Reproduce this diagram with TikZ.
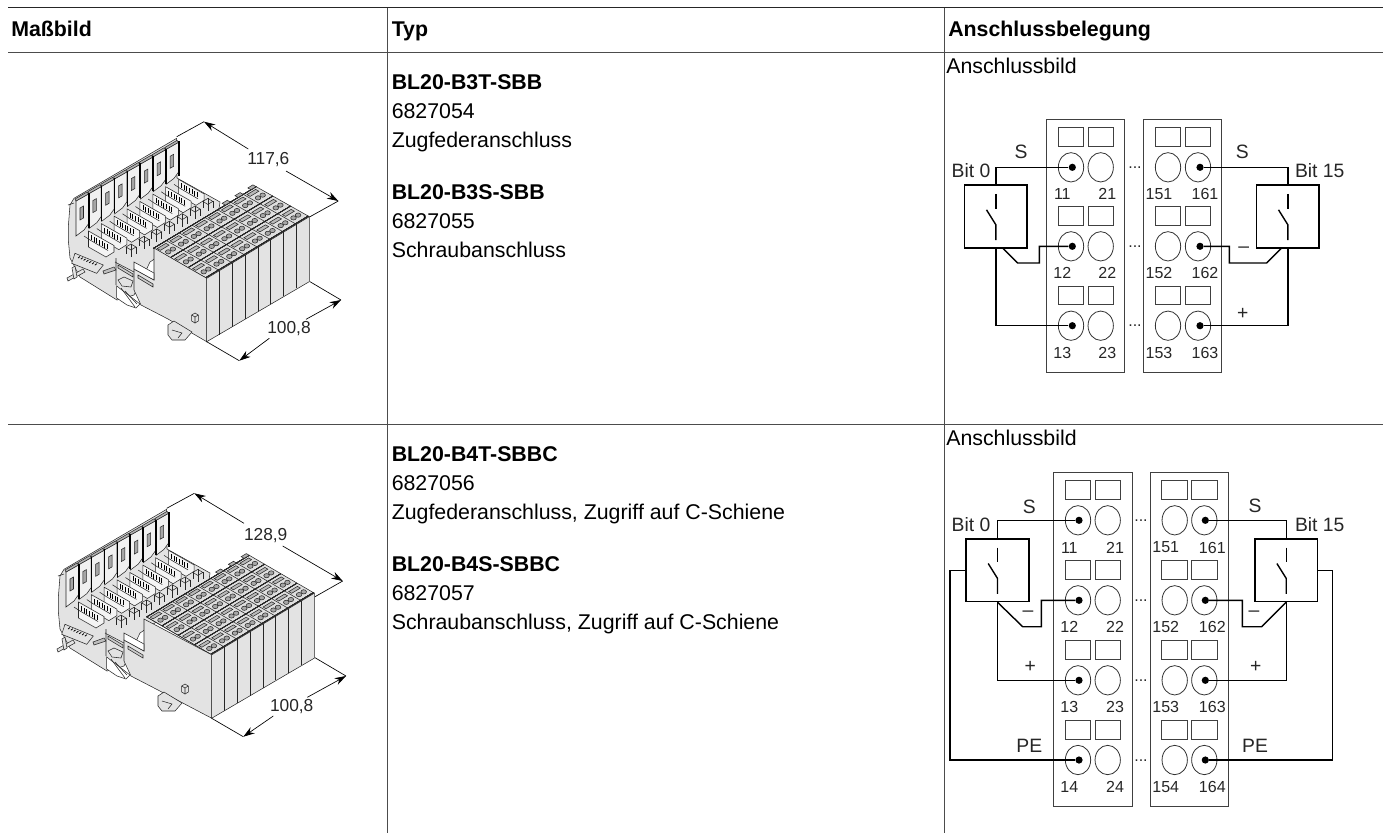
\documentclass[tikz,border=0pt]{standalone}
\usepackage{fontspec}
\setmainfont{Liberation Sans}
\usetikzlibrary{calc, arrows.meta, shapes.geometric}

\definecolor{bodygray}{HTML}{E3E3E3}

\tikzset{
  tabline/.style={line width=0.75pt, black!70},
  txt/.style={anchor=base west, inner sep=0pt, font=\fontsize{16}{18}\selectfont},
  head/.style={txt, font=\fontsize{16}{18}\selectfont\bfseries},
  lab/.style={inner sep=0pt, text=black!85, font=\fontsize{12}{14}\selectfont},
  dimlab/.style={lab, font=\fontsize{13}{15}\selectfont},
  biglab/.style={lab, font=\fontsize{14.5}{16}\selectfont},
  wire/.style={line width=1.05pt, black},
  block/.style={draw=black!75, line width=0.6pt, inner sep=0pt},
  slot/.style={draw=black!75, line width=0.6pt, minimum width=19pt, minimum height=14pt, inner sep=0pt},
  oval/.style={ellipse, draw=black!80, line width=0.6pt, minimum width=19pt, minimum height=22pt, inner sep=0pt},
  dot/.style={circle, fill=black, minimum size=5.4pt, inner sep=0pt},
  swbox/.style={draw=black, line width=1.05pt, minimum width=47pt, minimum height=47pt, inner sep=0pt},
  dim/.style={line width=0.5pt, black},
  dimarrow/.style={dim, -{Stealth[length=8.5pt,width=5.5pt]}},
  part/.style={draw=black!85, line width=0.4pt},
}

% contact symbol inside a switch box
\newcommand{\switchsym}[1]{
  \draw[wire] ($(#1)+(0,-22.7)$) -- ($(#1)+(0,-8)$);
  \draw[wire] ($(#1)+(-9.3,-6.7)$) -- ($(#1)+(0,8.2)$) -- ($(#1)+(0,23.7)$);
}

% #1,#2 shift of the rear part, #3 rows of terminals, #4,#5 one row in depth
\newcommand{\drawdevice}[5]{
  \begin{scope}[shift={(#1,#2)}]
    % floor and left wall
    \filldraw[part, fill=bodygray] (70,205) -- (74,198.3) -- (176.7,138.3) -- (177,178) -- (220,202) -- (218,216)
      -- (150,262) -- (134,295) -- (117,300) -- (80,277) -- (70,258) -- (68.3,240) -- (68.3,226.7) -- cycle;
    \draw[part] (68,205) -- (74,203);
    % flaps and sockets
    \foreach \i in {7,...,0} {
      \begin{scope}[shift={(12.86*\i,-7.38*\i)}]
        \filldraw[part, fill=bodygray!50] (76,201) -- (88.3,194) -- (88.3,224) -- (84,230) -- (76,236) -- cycle;
        \filldraw[part, fill=gray!60] (75,199) -- (87,192) -- (88.5,194) -- (76,201) -- cycle;
        \draw[black, line width=1.2pt] (88.8,193) -- (88.8,228);
        \filldraw[part, fill=gray!70] (80,208) -- (83.5,206) -- (83.5,218) -- (80,220) -- cycle;
        \filldraw[part, fill=bodygray!40] (88.5,231) -- (114,245.5) -- (114,252) -- (106,257) -- (88.5,247) -- cycle;
        \draw[part] (84,236) -- (90,240) -- (108,250.5);
        \foreach \j in {0,...,6} {
          \draw[black, line width=0.45pt] (91.5+2.6*\j,240+1.5*\j) -- +(0,-5);
        }
      \end{scope}
    }
    % small cages beside the terminals
    \foreach \i in {0,...,6} {
      \begin{scope}[shift={(12.8*\i,-7.6*\i)}]
        \draw[part] (126,247) -- (131,244) -- (136,247) -- (131,250) -- cycle;
        \draw[part] (126,247) -- (126,254) (131,250) -- (131,257) (136,247) -- (136,254);
        \draw[part] (131,244) -- (131,250);
      \end{scope}
    }
    \coordinate (N1) at (154,248);
    \coordinate (N2) at (154,280);
    \coordinate (N3) at (134,269);
    \coordinate (N4) at (134,290);
    \coordinate (N5) at (141,305);
    \coordinate (N6) at (168,319);
  \end{scope}

  % terminal top
  \begin{scope}[shift={(206.7,278.3)}, x={(9.62pt,5.78pt)}, y={(#4pt,#5pt)}]
    \coordinate (TA) at (0,0);
    \coordinate (TB) at (8,0);
    \filldraw[part, fill=gray!25] (0,0) -- (8,0) -- (8,#3) -- (0,#3) -- cycle;
    \foreach \cc in {0,...,7} {
      \foreach \rr in {1,...,#3} {
        \filldraw[part, fill=gray!55] (\cc+.12,\rr-.3) -- (\cc+.8,\rr-.3) -- (\cc+.8,\rr-.12) -- (\cc+.12,\rr-.12) -- cycle;
        \filldraw[part, fill=gray!70] (\cc+.32,\rr-.6) ellipse (2.1pt and 1.6pt);
        \filldraw[part, fill=gray!70] (\cc+.68,\rr-.6) ellipse (2.1pt and 1.6pt);
        \draw[part] (\cc,\rr-1) -- (\cc,\rr) (0,\rr-.94) -- (8,\rr-.94);
      }
      \draw[part] (0,\cc*0+#3) -- (8,#3);
    }
    % knobs on the back edge
    \foreach \cc in {5.8,6.8,7.8} {
      \filldraw[part, fill=gray!60] (\cc-.2,#3) -- (\cc-.2,#3+.18) -- (\cc+.2,#3+.18) -- (\cc+.2,#3) -- cycle;
    }
  \end{scope}

  % front face
  \filldraw[part, fill=bodygray] (TA) -- (TB) -- ($(TB)+(0,65)$) -- ($(TA)+(0,63.4)$) -- cycle;
  \foreach \i in {1,...,7} {
    \draw[black!85, line width=0.75pt] ($(TA)!\i/8!(TB)$) -- ($($(TA)!\i/8!(TB)$)+(0,64)$);
  }
  \draw[part] (TA) -- ($(TA)+(0,63.4)$);

  % side face
  \filldraw[part, fill=bodygray] (TA) -- (N1) -- (N2) -- (N3) -- (N4) -- (N5) -- (N6) -- ($(TA)+(0,63.4)$) -- cycle;

  \begin{scope}[shift={(#1,#2)}]
    % slotted strips in the cut-out
    \draw[part] (116,258) -- (116,285) (115,262) -- (134,272);
    \filldraw[part, fill=gray!40] (118,265) -- (133,274) -- (133,277) -- (118,268) -- cycle;
    \filldraw[part, fill=gray!40] (138,275) -- (153,284) -- (153,287) -- (138,278) -- cycle;
    \filldraw[part, fill=white] (134,269) -- (154,280) -- (154,273) -- (134,262) -- cycle;
    % connector and lever
    \filldraw[part, fill=bodygray] (75,253.3) -- (103.3,265) -- (96.7,273.3) -- (71.7,263.3) -- cycle;
    \foreach \j in {0,...,6} {
      \draw[black, line width=0.6pt] (78+2.8*\j,258+1.2*\j) -- +(2,-1.5);
    }
    \filldraw[part, fill=bodygray] (68,281) -- (67,278) -- (83,269) -- (85,272) -- cycle;
    \filldraw[part, fill=bodygray] (72,268) -- (75,266) -- (77,277) -- (74,279) -- cycle;
    \filldraw[part, fill=gray!50] (104,274) -- (103,271) -- (114,267) -- (116,270) -- cycle;
    % clip in the middle
    \filldraw[part, fill=white] (116.7,286) -- (140,304) -- (136,308) -- (127,305) -- (116.7,298) -- cycle;
    \draw[part] (121,288) -- (135,307) (125,291) -- (137,304);
    \filldraw[part, fill=bodygray] (118,280) -- (124,277) -- (133,281) -- (131,287) -- (122,286) -- cycle;
    % foot in front and small cube
    \filldraw[part, fill=bodygray] (168,325) -- (174,321) -- (192,332) -- (185,340) -- (172,340) -- (168,335) -- cycle;
    \draw[part] (172,330) -- (182,333) -- (178,338);
    \draw[part] (191.7,315) -- (195,313) -- (198.3,315) -- (198.3,321) -- (195,323) -- (191.7,321) -- cycle;
    \draw[part] (191.7,315) -- (195,317) -- (198.3,315) (195,317) -- (195,323);
  \end{scope}
}

\begin{document}
\begin{tikzpicture}[x=0.75pt, y=-0.75pt]
\useasboundingbox (0,0) rectangle (1391,833);

% Table
\draw[black!85, line width=1pt] (8,7.5) -- (1383,7.5);
\draw[tabline] (8,52.5) -- (1383,52.5);
\draw[tabline] (8,424) -- (1383,424);
\draw[tabline] (387,7.5) -- (387,833);
\draw[tabline] (944,7.5) -- (944,833);

% Header
\node[head] (hmass) at (11,36) {Maßbild};
\node[head] (htyp) at (391.5,36) {Typ};
\node[head] (hans) at (948,36) {Anschlussbelegung};

% Types
\foreach \n/\y/\t in {bla/89.5/BL20-B3T-SBB, blb/199/BL20-B3S-SBB, blc/461.5/BL20-B4T-SBBC, bld/571.5/BL20-B4S-SBBC} {
  \node[head] (\n) at (391.5,\y) {\t};
}
\foreach \n/\y/\t in {ta/118/6827054, tb/147/Zugfederanschluss, tc/228.5/6827055, td/257.5/Schraubanschluss,
  te/490.5/6827056, tf/519.5/{Zugfederanschluss, Zugriff auf C-Schiene}, tg/600.5/6827057, th/629.5/{Schraubanschluss, Zugriff auf C-Schiene}} {
  \node[txt] (\n) at (391.5,\y) {\t};
}
\node[txt] (ana) at (946,73.5) {Anschlussbild};
\node[txt] (anb) at (946,445) {Anschlussbild};

% Device, first row
\drawdevice{0}{0}{3}{-13.3}{7.5}
\coordinate (da1) at (176.7,136.7);
\coordinate (da2) at (204,121.7);
\coordinate (da3) at (338.3,201);
\coordinate (da4) at (310,216.7);
\coordinate (da5) at (310,281.7);
\coordinate (da6) at (341,300);
\coordinate (da7) at (206.7,341.7);
\coordinate (da8) at (239.3,360.7);
\node[dimlab] (wa) at (268.3,159.3) {117,6};
\node[dimlab] (wb) at (289,329) {100,8};
\draw[dim] (da1) -- (da2);
\draw[dim] (da4) -- (da3);
\draw[dim] (da5) -- (da6);
\draw[dim] (da7) -- (da8);
\draw[dimarrow] (248.3,149) -- (da2);
\draw[dimarrow] (286,171) -- (da3);
\draw[dimarrow] (306,319.3) -- (da6);
\draw[dimarrow] (269.3,338.3) -- (da8);

% Device, second row
\begin{scope}[shift={(5,376.5)}]
  \drawdevice{-15}{-5.5}{4}{-12.2}{7.1}
\end{scope}
\coordinate (db1) at (166.7,508.3);
\coordinate (db2) at (194.3,493.3);
\coordinate (db3) at (342.7,581);
\coordinate (db4) at (315,596.7);
\coordinate (db5) at (315,657.7);
\coordinate (db6) at (346,676);
\coordinate (db7) at (211.7,718.3);
\coordinate (db8) at (243.3,736.7);
\node[dimlab] (wc) at (265.7,536) {128,9};
\node[dimlab] (wd) at (291.7,706.7) {100,8};
\draw[dim] (db1) -- (db2);
\draw[dim] (db4) -- (db3);
\draw[dim] (db5) -- (db6);
\draw[dim] (db7) -- (db8);
\draw[dimarrow] (244,523.3) -- (db2);
\draw[dimarrow] (282.7,546) -- (db3);
\draw[dimarrow] (307.3,697.3) -- (db6);
\draw[dimarrow] (273.3,716) -- (db8);

% Terminal blocks, first row
\node[block, minimum width=58.5pt, minimum height=189.5pt] (ba) at (1085.7,245.7) {};
\node[block, minimum width=58.5pt, minimum height=189.5pt] (bb) at (1182.7,245.7) {};
\foreach \r/\y/\ny/\dy in {1/136.7/167.3/198.5, 2/216/246.3/277.5, 3/295.3/325.7/357} {
  \node[slot] (ra1\r) at (1071,\y) {};
  \node[slot] (ra2\r) at (1100.8,\y) {};
  \node[slot] (ra15\r) at (1168.2,\y) {};
  \node[slot] (ra16\r) at (1198,\y) {};
  \node[oval] (oa1\r) at (1071,\ny) {};
  \node[oval] (oa2\r) at (1100.7,\ny) {};
  \node[oval] (oa15\r) at (1168,\ny) {};
  \node[oval] (oa16\r) at (1198,\ny) {};
  \node[dot] (pa1\r) at (1072.3,\ny) {};
  \node[dot] (pa16\r) at (1200,\ny) {};
  \node[lab] (na1\r) at (1062.3,\dy-4.5) {1\r};
  \node[lab] (na2\r) at (1107.3,\dy-4.5) {2\r};
  \node[lab] (na15\r) at (1159,\dy-4.5) {15\r};
  \node[lab] (na16\r) at (1205,\dy-4.5) {16\r};
  \node[lab, anchor=base] (ga\r) at (1135,\ny+1) {...};
}
\node[swbox] (sa) at (995.8,216.5) {};
\node[swbox] (sb) at (1287.8,216.5) {};
\switchsym{sa}
\switchsym{sb}
\draw[wire] (sa.north) |- (pa11);
\draw[wire] (sa.south) |- (pa13);
\coordinate (ma) at (1002.3,247.7);
\draw[wire] (ma) -- (1017.7,263) -- (1039.3,263) |- (pa12);
\draw[wire] (sb.north) |- (pa161);
\draw[wire] (sb.south) |- (pa163);
\coordinate (mb) at (1281,248.7);
\draw[wire] (mb) -- (1266.7,263) -- (1229.3,263) |- (pa162);
\node[biglab] (la1) at (1021,151.7) {S};
\node[biglab] (la2) at (1242.3,151.7) {S};
\node[biglab] (la3) at (971,171) {Bit 0};
\node[biglab] (la4) at (1319.7,171) {Bit 15};
\node[biglab] (la5) at (1243.7,249.3) {–};
\node[biglab] (la6) at (1242.7,314) {+};

% Terminal blocks, second row
\node[block, minimum width=59pt, minimum height=250.8pt] (bc) at (1092.8,639.5) {};
\node[block, minimum width=59pt, minimum height=250.8pt] (bd) at (1189.3,639.5) {};
\foreach \r/\y/\ny/\dy in {1/490/520.3/552, 2/570/600.3/631.5, 3/650/680.3/711.5, 4/730/760/791.5} {
  \node[slot] (rb1\r) at (1078.2,\y) {};
  \node[slot] (rb2\r) at (1108,\y) {};
  \node[slot] (rb15\r) at (1174.5,\y) {};
  \node[slot] (rb16\r) at (1204.5,\y) {};
  \node[oval] (ob1\r) at (1078,\ny) {};
  \node[oval] (ob2\r) at (1107.7,\ny) {};
  \node[oval] (ob15\r) at (1174.7,\ny) {};
  \node[oval] (ob16\r) at (1204.3,\ny) {};
  \node[dot] (pb1\r) at (1079,\ny) {};
  \node[dot] (pb16\r) at (1205.3,\ny) {};
  \node[lab] (nb1\r) at (1069.3,\dy-4.5) {1\r};
  \node[lab] (nb2\r) at (1115,\dy-4.5) {2\r};
  \node[lab] (nb15\r) at (1165.7,\dy-4.5) {15\r};
  \node[lab] (nb16\r) at (1212.3,\dy-4.5) {16\r};
  \node[lab, anchor=base] (gb\r) at (1141,\ny+1) {...};
}
\node[swbox] (sc) at (997.5,570.2) {};
\node[swbox] (sd) at (1286.2,570.2) {};
\switchsym{sc}
\switchsym{sd}
\draw[wire] (sc.north) |- (pb11);
\draw[wire] (sc.south) -- (1022.7,626.7) -- (1041.3,626.7) |- (pb12);
\draw[wire] (sc.south) |- (pb13);
\draw[wire] (sc.west) -- (950,570.2) |- (pb14);
\draw[wire] (sd.north) |- (pb161);
\draw[wire] (sd.south) -- (1261.7,626.7) -- (1242.3,626.7) |- (pb162);
\draw[wire] (sd.south) |- (pb163);
\draw[wire] (sd.east) -- (1332.7,570.2) |- (pb164);
\node[biglab] (lb1) at (1029.3,507.3) {S};
\node[biglab] (lb2) at (1255,506.3) {S};
\node[biglab] (lb3) at (971,525) {Bit 0};
\node[biglab] (lb4) at (1319.7,525) {Bit 15};
\node[biglab] (lb5) at (1028,613.7) {–};
\node[biglab] (lb6) at (1254,613.7) {–};
\node[biglab] (lb7) at (1030.3,667.3) {+};
\node[biglab] (lb8) at (1255.7,667.3) {+};
\node[biglab] (lb9) at (1029.3,745.7) {PE};
\node[biglab] (lb10) at (1255,745.7) {PE};

\end{tikzpicture}
\end{document}
